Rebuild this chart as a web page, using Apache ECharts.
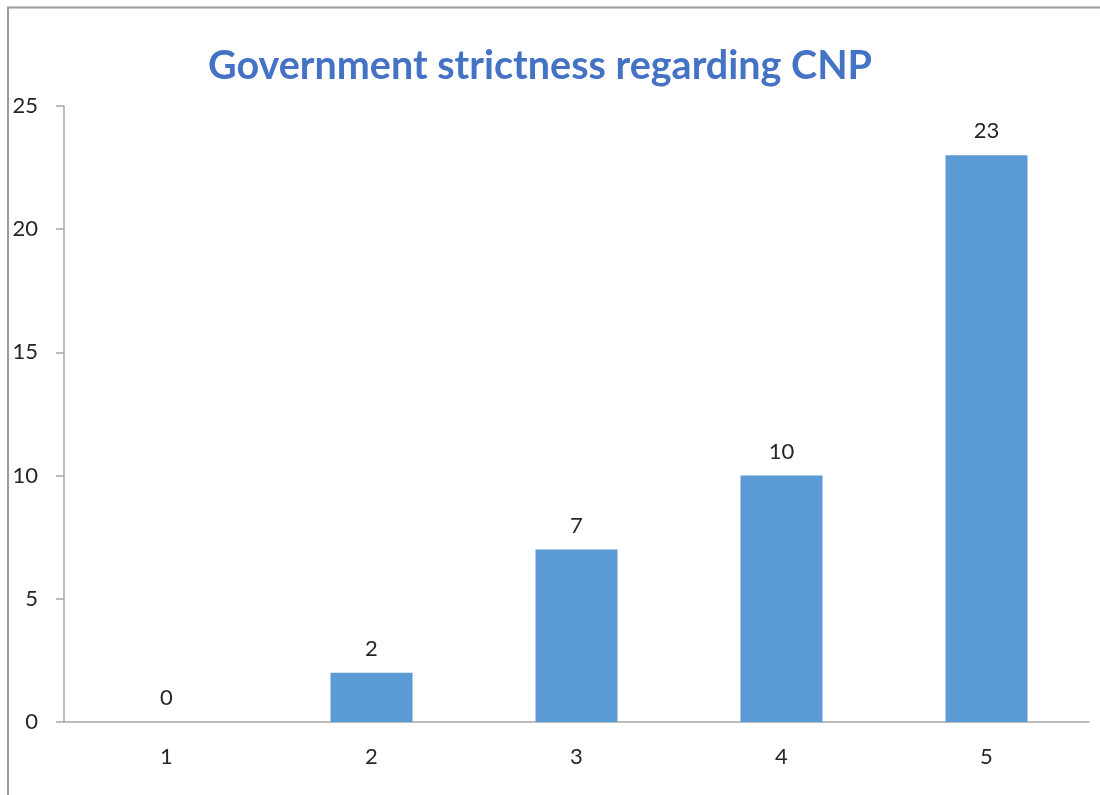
<!DOCTYPE html>
<html><head><meta charset="utf-8">
<script src="https://cdn.jsdelivr.net/npm/echarts@6/dist/echarts.min.js"></script>
<style>html,body{margin:0;padding:0;background:#fff}#c{width:1100px;height:795px}</style>
</head><body><div id="c"></div>
<script>
const categories = ['1', '2', '3', '4', '5'];
const values = [0, 2, 7, 10, 23];
const titleText = 'Government strictness regarding CNP';

const chart = echarts.init(document.getElementById('c'), null, {renderer: 'canvas'});
chart.setOption({
  animation: false,
  backgroundColor: '#fff',
  title: {
    text: titleText,
    left: 535, top: 41, textAlign: 'center',
    textStyle: {fontFamily: 'Lato', fontWeight: 'bold', fontSize: 39.5, color: '#4472C4'}
  },
  graphic: [{
    type: 'polyline', silent: true,
    shape: {points: [[8, 795], [8, 7.5], [1100, 7.5]]},
    style: {stroke: '#9a9a9a', lineWidth: 2, fill: null}
  }],
  grid: {left: 64, right: 11, top: 106, bottom: 73},
  xAxis: {
    type: 'category', data: categories,
    axisLine: {lineStyle: {color: '#a6a6a6', width: 1.5}},
    axisTick: {show: false},
    axisLabel: {margin: 24, fontFamily: 'Lato', fontSize: 22, color: '#262626'}
  },
  yAxis: {
    type: 'value', min: 0, max: 25, interval: 5,
    axisLine: {show: true, lineStyle: {color: '#a6a6a6', width: 1.5}},
    axisTick: {show: true, length: 8, lineStyle: {color: '#a6a6a6', width: 1.5}},
    splitLine: {show: false},
    axisLabel: {margin: 26, fontFamily: 'Lato', fontSize: 22, color: '#262626'}
  },
  series: [{
    type: 'bar', data: values, barWidth: 82,
    itemStyle: {color: '#5B9BD5'},
    label: {show: true, position: 'top', distance: 13, fontFamily: 'Lato', fontSize: 22, color: '#262626'}
  }]
});
</script></body></html>
